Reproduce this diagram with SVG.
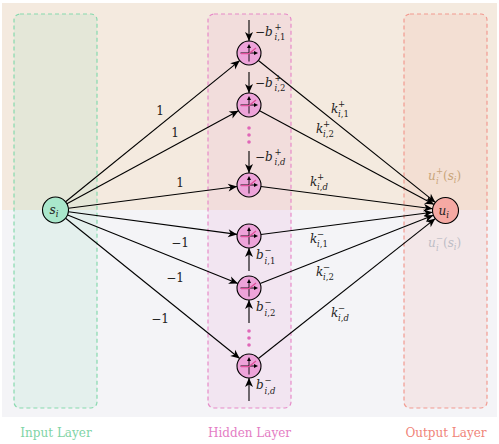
<svg xmlns="http://www.w3.org/2000/svg" xmlns:xlink="http://www.w3.org/1999/xlink" width="499" height="444" viewBox="0 0 499 444">
<style>
text,tspan{font-family:'DejaVu Serif','Liberation Serif','Times New Roman',serif}
text{font-size:12px;fill:#222}
.i{font-style:italic}
.s{font-size:8.5px}
.lay{font-size:12px}
.edge{stroke:#000;stroke-width:1.1;fill:none;marker-end:url(#ar)}
.nd{stroke:#000;stroke-width:1.1}
.hn{fill:#eda3d9}
.dot{fill:#e066b8}
</style>
<defs>
<marker id="ar" viewBox="-10 -5 11 10" refX="0" refY="0" markerWidth="11" markerHeight="10" markerUnits="userSpaceOnUse" orient="auto">
<path d="M0,0 L-9,-4 L-6.5,0 L-9,4Z" fill="#000"/>
</marker>
<g id="relu">
<path d="M0,8.5 V-6 M-8.5,0 H6" stroke="#000" stroke-width="0.9" fill="none"/>
<path d="M0,-9 L-2,-5 L2,-5Z M9,0 L5,-2 L5,2Z" fill="#000"/>
<path d="M-8,0.6 H0 L7,-5" stroke="#e0509c" stroke-width="1.3" fill="none"/>
</g>
</defs>

<g id="bands">
<rect x="2" y="3" width="495" height="207" fill="#f4eadf"/>
<rect x="2" y="210" width="495" height="207" fill="#f4f4f7"/>
</g>

<g id="input-layer">
<rect x="14" y="14" width="83" height="394" rx="6" fill="#7ed6a8" fill-opacity="0.13" stroke="#86d9ae" stroke-width="1.2" stroke-dasharray="4,3"/>
<text class="lay" x="56" y="437" text-anchor="middle" style="fill:#7fd4a6">Input Layer</text>
</g>
<g id="hidden-layer">
<rect x="208" y="14" width="83" height="394" rx="6" fill="#e98ccb" fill-opacity="0.14" stroke="#e68ac8" stroke-width="1.2" stroke-dasharray="4,3"/>
<text class="lay" x="249.5" y="437" text-anchor="middle" style="fill:#e47cc4">Hidden Layer</text>
</g>
<g id="output-layer">
<rect x="404" y="14" width="83" height="394" rx="6" fill="#f29a90" fill-opacity="0.14" stroke="#f29a90" stroke-width="1.2" stroke-dasharray="4,3"/>
<text class="lay" x="446" y="437" text-anchor="middle" style="fill:#f08479">Output Layer</text>
</g>

<g id="connectors">
<line class="edge" x1="65.6" y1="201.8" x2="239.7" y2="60.6"/>
<line class="edge" x1="66.9" y1="203.8" x2="238.5" y2="110.7"/>
<line class="edge" x1="68.4" y1="208.3" x2="237.1" y2="186.5"/>
<line class="edge" x1="68.4" y1="211.7" x2="237.1" y2="234.4"/>
<line class="edge" x1="67.6" y1="214.9" x2="237.9" y2="283.5"/>
<line class="edge" x1="65.6" y1="218.2" x2="239.7" y2="358.5"/>
<line class="edge" x1="258.4" y1="60.5" x2="435.4" y2="202.4"/>
<line class="edge" x1="259.6" y1="110.7" x2="434.0" y2="204.4"/>
<line class="edge" x1="260.9" y1="186.5" x2="432.6" y2="208.8"/>
<line class="edge" x1="260.9" y1="234.5" x2="432.6" y2="212.2"/>
<line class="edge" x1="260.2" y1="283.6" x2="433.4" y2="215.3"/>
<line class="edge" x1="258.4" y1="358.5" x2="435.3" y2="218.6"/>
<line class="edge" x1="249" y1="20" x2="249" y2="41"/>
<line class="edge" x1="249" y1="72" x2="249" y2="93"/>
<line class="edge" x1="249" y1="151" x2="249" y2="173"/>
<line class="edge" x1="249" y1="271" x2="249" y2="248"/>
<line class="edge" x1="249" y1="323" x2="249" y2="300"/>
<line class="edge" x1="249" y1="401" x2="249" y2="378"/>
</g>

<g id="edge-labels">
<text x="160" y="115" text-anchor="middle">1</text>
<text x="175" y="137" text-anchor="middle">1</text>
<text x="180" y="187" text-anchor="middle">1</text>
<text x="180" y="247" text-anchor="middle">−1</text>
<text x="175" y="282" text-anchor="middle">−1</text>
<text x="160" y="323" text-anchor="middle">−1</text>

<text x="331" y="113"><tspan class="i">k</tspan><tspan class="s" x="338" y="107">+</tspan><tspan class="s" x="338" y="117"><tspan class="i">i</tspan>,1</tspan></text>
<text x="316" y="133"><tspan class="i">k</tspan><tspan class="s" x="323" y="127">+</tspan><tspan class="s" x="323" y="137"><tspan class="i">i</tspan>,2</tspan></text>
<text x="310" y="186"><tspan class="i">k</tspan><tspan class="s" x="317" y="180">+</tspan><tspan class="s" x="317" y="190"><tspan class="i">i</tspan>,<tspan class="i">d</tspan></tspan></text>
<text x="310" y="243"><tspan class="i">k</tspan><tspan class="s" x="317" y="237">−</tspan><tspan class="s" x="317" y="247"><tspan class="i">i</tspan>,1</tspan></text>
<text x="316" y="276"><tspan class="i">k</tspan><tspan class="s" x="323" y="270">−</tspan><tspan class="s" x="323" y="280"><tspan class="i">i</tspan>,2</tspan></text>
<text x="331" y="317"><tspan class="i">k</tspan><tspan class="s" x="338" y="311">−</tspan><tspan class="s" x="338" y="321"><tspan class="i">i</tspan>,<tspan class="i">d</tspan></tspan></text>

<text x="255" y="36">−<tspan class="i">b</tspan><tspan class="s" x="274.5" y="30">+</tspan><tspan class="s" x="274.5" y="40"><tspan class="i">i</tspan>,1</tspan></text>
<text x="255" y="87">−<tspan class="i">b</tspan><tspan class="s" x="274.5" y="81">+</tspan><tspan class="s" x="274.5" y="91"><tspan class="i">i</tspan>,2</tspan></text>
<text x="255" y="161">−<tspan class="i">b</tspan><tspan class="s" x="274.5" y="155">+</tspan><tspan class="s" x="274.5" y="165"><tspan class="i">i</tspan>,<tspan class="i">d</tspan></tspan></text>
<text x="256" y="259"><tspan class="i">b</tspan><tspan class="s" x="264.5" y="253">−</tspan><tspan class="s" x="264.5" y="264"><tspan class="i">i</tspan>,1</tspan></text>
<text x="256" y="311"><tspan class="i">b</tspan><tspan class="s" x="264.5" y="305">−</tspan><tspan class="s" x="264.5" y="316"><tspan class="i">i</tspan>,2</tspan></text>
<text x="256" y="389"><tspan class="i">b</tspan><tspan class="s" x="264.5" y="383">−</tspan><tspan class="s" x="264.5" y="394"><tspan class="i">i</tspan>,<tspan class="i">d</tspan></tspan></text>
</g>

<g id="dots">
<circle class="dot" cx="249" cy="128" r="1.8"/>
<circle class="dot" cx="249" cy="135" r="1.8"/>
<circle class="dot" cx="249" cy="142" r="1.8"/>
<circle class="dot" cx="249" cy="331" r="1.8"/>
<circle class="dot" cx="249" cy="338" r="1.8"/>
<circle class="dot" cx="249" cy="345" r="1.8"/>
</g>

<g id="s_i">
<circle class="nd" cx="55.5" cy="210" r="13" fill="#a9e7cb"/>
<text x="49.5" y="214"><tspan class="i">s</tspan><tspan class="s i" y="217">i</tspan></text>
</g>

<g id="h1"><circle class="nd hn" cx="249" cy="53" r="12"/><use xlink:href="#relu" x="249" y="53"/></g>
<g id="h2"><circle class="nd hn" cx="249" cy="105" r="12"/><use xlink:href="#relu" x="249" y="105"/></g>
<g id="h3"><circle class="nd hn" cx="249" cy="185" r="12"/><use xlink:href="#relu" x="249" y="185"/></g>
<g id="h4"><circle class="nd hn" cx="249" cy="236" r="12"/><use xlink:href="#relu" x="249" y="236"/></g>
<g id="h5"><circle class="nd hn" cx="249" cy="288" r="12"/><use xlink:href="#relu" x="249" y="288"/></g>
<g id="h6"><circle class="nd hn" cx="249" cy="366" r="12"/><use xlink:href="#relu" x="249" y="366"/></g>

<g id="u_i">
<circle class="nd" cx="445.5" cy="210.5" r="13" fill="#f5a9a3"/>
<text x="438.5" y="214.5"><tspan class="i">u</tspan><tspan class="s i" y="217.5">i</tspan></text>
</g>

<g id="u-labels">
<text x="428" y="180" style="fill:#c9a57a"><tspan class="i">u</tspan><tspan class="s" x="436" y="174">+</tspan><tspan class="s i" x="436" y="184">i</tspan><tspan x="443" y="180">(</tspan><tspan class="i">s</tspan><tspan class="s i" y="183">i</tspan><tspan y="180">)</tspan></text>
<text x="428" y="247" style="fill:#bdbdc6"><tspan class="i">u</tspan><tspan class="s" x="436" y="241">−</tspan><tspan class="s i" x="436" y="251">i</tspan><tspan x="443" y="247">(</tspan><tspan class="i">s</tspan><tspan class="s i" y="250">i</tspan><tspan y="247">)</tspan></text>
</g>
</svg>
